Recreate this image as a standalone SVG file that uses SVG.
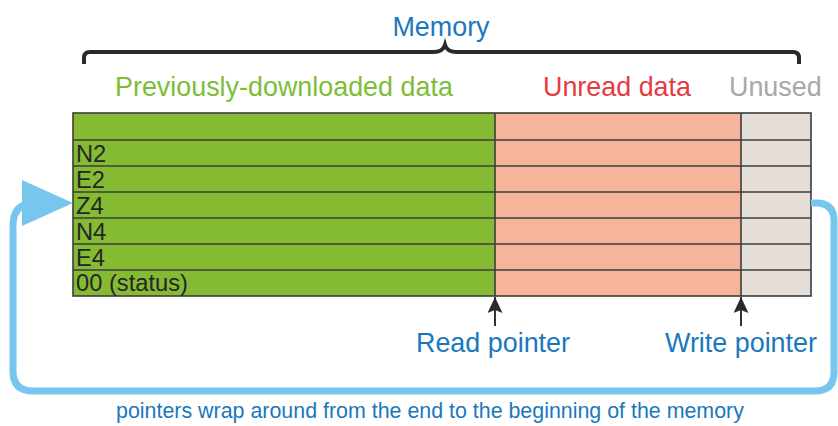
<svg xmlns="http://www.w3.org/2000/svg" width="838" height="426" viewBox="0 0 838 426">
<style>
text{font-family:"Liberation Sans",Arial,sans-serif}
.title{font-size:26.9px}
.blue{fill:#1a78bd}
.row{font-size:23.7px;fill:#262626}
.cell{stroke:#3d3d3d;stroke-width:1.6}
.ptr{stroke:#333;stroke-width:2;fill:none}
.wrap{stroke:#76c6ef;stroke-width:7;fill:none}
</style>
<defs>
<marker id="head" markerUnits="userSpaceOnUse" markerWidth="16" markerHeight="15" viewBox="0 0 16 15" refX="16" refY="7.5" orient="auto">
<path d="M0,0 L16,7.5 L0,15 L3,7.5 z" fill="#2b2b2b"/>
</marker>
</defs>
<g id="memory-title">
<text class="title blue" x="441" y="36" text-anchor="middle">Memory</text>
<path d="M84,64 V58 Q84,52 90,52 H433 Q443,52 445,45 Q447,52 457,52 H793 Q799,52 799,58 V64" fill="none" stroke="#2a2a2a" stroke-width="4"/>
</g>
<g id="previous-label"><text class="title" x="115" y="96" fill="#7dbd36">Previously-downloaded data</text></g>
<g id="unread-label"><text class="title" x="543" y="96" fill="#e63a3f">Unread data</text></g>
<g id="unused-label"><text class="title" x="729" y="96" fill="#a8a8a8">Unused</text></g>
<g id="memory-table">
<rect x="73" y="113" width="422" height="183" fill="#84bb33"/>
<rect x="495" y="113" width="246" height="183" fill="#f6b49a"/>
<rect x="741" y="113" width="70" height="183" fill="#e5ddd8"/>
<g class="cell">
<line x1="73" y1="140" x2="811" y2="140"/>
<line x1="73" y1="166" x2="811" y2="166"/>
<line x1="73" y1="192" x2="811" y2="192"/>
<line x1="73" y1="218" x2="811" y2="218"/>
<line x1="73" y1="244" x2="811" y2="244"/>
<line x1="73" y1="270" x2="811" y2="270"/>
<line x1="495" y1="113" x2="495" y2="296"/>
<line x1="741" y1="113" x2="741" y2="296"/>
<rect x="73" y="113" width="738" height="183" fill="none"/>
</g>
<text class="row" x="76" y="162">N2</text>
<text class="row" x="76" y="188">E2</text>
<text class="row" x="76" y="214">Z4</text>
<text class="row" x="76" y="240">N4</text>
<text class="row" x="76" y="266">E4</text>
<text class="row" x="76" y="291">00 (status)</text>
</g>
<g id="connectors">
<path class="wrap" d="M811,203 H816 Q834,203 834,221 V372 Q834,391 815,391 H33 Q13,391 13,371 V226 Q13,204 32,204"/>
<polygon points="73,203 22,180 22,226" fill="#76c6ef"/>
<line class="ptr" x1="495" y1="326" x2="495" y2="297" marker-end="url(#head)"/>
<line class="ptr" x1="741" y1="326" x2="741" y2="297" marker-end="url(#head)"/>
</g>
<g id="read-pointer"><text class="title blue" x="416" y="352">Read pointer</text></g>
<g id="write-pointer"><text class="title blue" x="665" y="352">Write pointer</text></g>
<g id="wrap-label"><text class="blue" x="430" y="418" font-size="21.4" text-anchor="middle">pointers wrap around from the end to the beginning of the memory</text></g>
</svg>
